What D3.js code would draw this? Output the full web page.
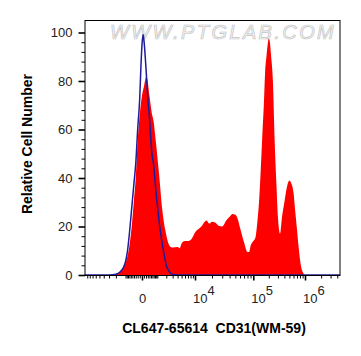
<!DOCTYPE html>
<html><head><meta charset="utf-8">
<script src="https://cdn.jsdelivr.net/npm/d3@7"></script>
<style>body{margin:0;background:#fff}svg{display:block}</style>
</head><body>
<svg id="c" width="361" height="356"></svg>
<script>
// Stained sample (red filled histogram): fluorescence value -> relative cell number
const redX = [-10000,-3000,-2000,-1500,-1200,-1000,-850,-700,-550,-400,
  -300,-200,-100,0,100,200,260,400,550,700,
  850,1000,1200,1500,2000,2500,3000,4000,4500,5000,
  6000,7000,8500,10000,13000,16000,18000,20000,23000,26000,
  30000,35000,40000,45000,50000,55000,60000,70000,80000,85000,
  90000,100000,110000,120000,130000,140000,150000,160000,170000,180000,
  190000,200000,210000,220000,240000,260000,280000,300000,330000,360000,
  400000,450000,500000,550000,600000,650000,700000,750000,800000,850000,
  900000,1000000,4500000];
const redY = [0,0,0.3,1.2,3,5,7.5,12,19.5,31,
  40,55,66,74,78,81.5,81,74,67,63,
  56,49,40,27,16.5,12,11.3,11.5,11,13,
  14,14,15,17.5,20,22.5,21.2,22,21.5,20.3,
  20,22.5,24,25.2,24.8,23,19.5,13.5,9.5,9.5,
  12,14,15.5,22,31,44,58,70,84,90,
  95,97.5,96,91,80,55,38,24,17,24,
  30,36.5,39,37.5,34,26,19,12,6.5,3,
  1.3,0,0];
// Control (blue outline)
const blueX = [-10000,-3000,-2000,-1500,-1200,-1000,-850,-700,-550,-400,
  -300,-200,-100,-50,0,50,100,200,300,400,
  550,700,850,1000,1200,1500,2000,2500,3000,4000,4500000];
const blueY = [0,0,0.3,1.3,3,5.5,9.5,17,27,38,
  46,60,73,85,95,99.2,96,85,73,65,
  51,45,36,29,21,13,4,1.2,0.2,0,0];

const yTicks = [0,20,40,60,80,100];
const yMinorTicks = [4,8,12,16,24,28,32,36,44,48,52,56,64,68,72,76,84,88,92,96];
const xMajorTicks = [0,1e4,1e5,1e6];
const xTickExponents = [null,"4","5","6"];
const xMinorTicks = [-9000,-8000,-7000,-6000,-5000,-4000,-3000,-2000,-1000,
  -900,-800,-700,-600,-500,-400,-300,-200,-100,
  100,200,300,400,500,600,700,800,900,
  1000,2000,3000,4000,5000,6000,7000,8000,9000,
  20000,30000,40000,50000,60000,70000,80000,90000,
  200000,300000,400000,500000,600000,700000,800000,900000,
  2000000,3000000,4000000];

const xTitle = "CL647-65614  CD31(WM-59)";
const yTitle = "Relative Cell Number";
const watermark = "WWW.PTGLAB.COM";

const L = 85, R = 340, T = 20.5, B = 275.5;
const FONT = "'Liberation Sans', Arial, sans-serif";

const x = d3.scaleSymlog().constant(1000)
  .domain([-10000, 0, 1e4, 1e5, 1e6, 4.5e6])
  .range([L, 142, 195, 253.3, 305, R]);
const y = d3.scaleLinear().domain([0, 100]).range([275, 32.5]);

const svg = d3.select("#c");

// watermark
svg.append("text")
  .attr("x", 110).attr("y", 39)
  .attr("font-family", FONT).attr("font-size", 20).attr("font-style", "italic")
  .attr("letter-spacing", 2.4)
  .attr("fill", "#f6f6f6").attr("stroke", "#c4c4c4").attr("stroke-width", 0.7)
  .text(watermark);

const red = redX.map((v, i) => ({x: v, y: redY[i]}));
const blue = blueX.map((v, i) => ({x: v, y: blueY[i]}));

svg.append("path").datum(red)
  .attr("fill", "#ff0000")
  .attr("d", d3.area().x(d => x(d.x)).y0(y(0)).y1(d => y(d.y)).curve(d3.curveMonotoneX));

svg.append("path").datum(blue)
  .attr("fill", "none").attr("stroke", "#1c1c9c").attr("stroke-width", 1.5)
  .attr("d", d3.line().x(d => x(d.x)).y(d => y(d.y)).curve(d3.curveMonotoneX));

// frame
svg.append("rect").attr("x", L).attr("y", T).attr("width", R - L).attr("height", B - T)
  .attr("fill", "none").attr("stroke", "#000").attr("stroke-width", 1);

// y axis
const gy = svg.append("g").attr("transform", `translate(${L},0)`);
gy.call(d3.axisLeft(y).tickValues(yMinorTicks).tickSize(3.5).tickFormat(""));
gy.call(g => g.select(".domain").remove());
const gy2 = svg.append("g").attr("transform", `translate(${L},0)`);
gy2.call(d3.axisLeft(y).tickValues(yTicks).tickSize(6.5).tickPadding(6));
gy2.select(".domain").remove();
gy2.selectAll(".tick line").attr("stroke-width", 1.6);
gy2.selectAll(".tick text").attr("font-family", FONT).attr("font-size", 13).attr("fill", "#222");

// x axis
const gx = svg.append("g").attr("transform", `translate(0,${B})`);
gx.call(d3.axisBottom(x).tickValues(xMinorTicks).tickSize(3).tickFormat(""));
gx.select(".domain").remove();
const gx2 = svg.append("g").attr("transform", `translate(0,${B})`);
gx2.call(d3.axisBottom(x).tickValues(xMajorTicks).tickSize(5).tickFormat(""));
gx2.select(".domain").remove();
gx2.selectAll(".tick line").attr("stroke-width", 1.6);

// x tick labels with superscripts
xMajorTicks.forEach((v, i) => {
  const t = svg.append("text").attr("y", 303)
    .attr("font-family", FONT).attr("font-size", 13).attr("fill", "#222");
  if (xTickExponents[i] === null) {
    t.attr("x", x(v) + 0.7).attr("text-anchor", "middle").text("0");
  } else {
    t.attr("x", x(v) - 2).attr("text-anchor", "start");
    t.append("tspan").text("10");
    t.append("tspan").attr("dy", -8).text(xTickExponents[i]);
  }
});

// titles
svg.append("text").attr("x", 214).attr("y", 333).attr("text-anchor", "middle")
  .attr("font-family", FONT).attr("font-size", 14).attr("font-weight", "bold")
  .attr("xml:space", "preserve").style("white-space", "pre")
  .text(xTitle);
svg.append("text").attr("transform", "translate(31.5,144) rotate(-90)")
  .attr("text-anchor", "middle")
  .attr("font-family", FONT).attr("font-size", 14).attr("font-weight", "bold")
  .text(yTitle);
</script>
</body></html>
